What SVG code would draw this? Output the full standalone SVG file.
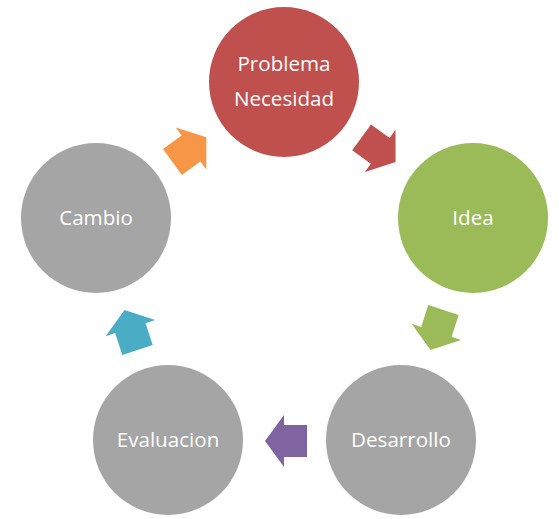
<svg xmlns="http://www.w3.org/2000/svg" width="559" height="519" viewBox="0 0 559 519">
<style>
.lbl{font-family:"Open Sans","Liberation Sans",sans-serif;font-size:20.6px;fill:#fff;text-anchor:middle}
</style>
<defs>
<polygon id="arr" points="-21,-16 2,-16 2,-26 21,0 2,26 2,16 -21,16"/>
</defs>
<rect width="559" height="519" fill="#fff"/>
<g id="connectors">
<use href="#arr" fill="#C0504D" transform="translate(378.6,149.7) rotate(36)"/>
<use href="#arr" fill="#9BBB59" transform="translate(437,330) rotate(108)"/>
<use href="#arr" fill="#8064A2" transform="translate(286,441) rotate(180)"/>
<use href="#arr" fill="#4BACC6" transform="translate(131,330) rotate(252)"/>
<use href="#arr" fill="#F79646" transform="translate(189.4,149.7) rotate(324)"/>
</g>
<g id="problema">
<circle cx="284" cy="82" r="75" fill="#C0504D"/>
<text class="lbl" x="284" y="71">Problema</text>
<text class="lbl" x="284" y="106">Necesidad</text>
</g>
<g id="idea">
<circle cx="473" cy="218" r="75" fill="#9BBB59"/>
<text class="lbl" x="473" y="225">Idea</text>
</g>
<g id="desarrollo">
<circle cx="401" cy="440" r="75" fill="#A5A5A5"/>
<text class="lbl" x="401" y="447">Desarrollo</text>
</g>
<g id="evaluacion">
<circle cx="168" cy="440" r="75" fill="#A5A5A5"/>
<text class="lbl" x="168" y="447">Evaluacion</text>
</g>
<g id="cambio">
<circle cx="96" cy="218" r="75" fill="#A5A5A5"/>
<text class="lbl" x="96" y="225">Cambio</text>
</g>
</svg>
